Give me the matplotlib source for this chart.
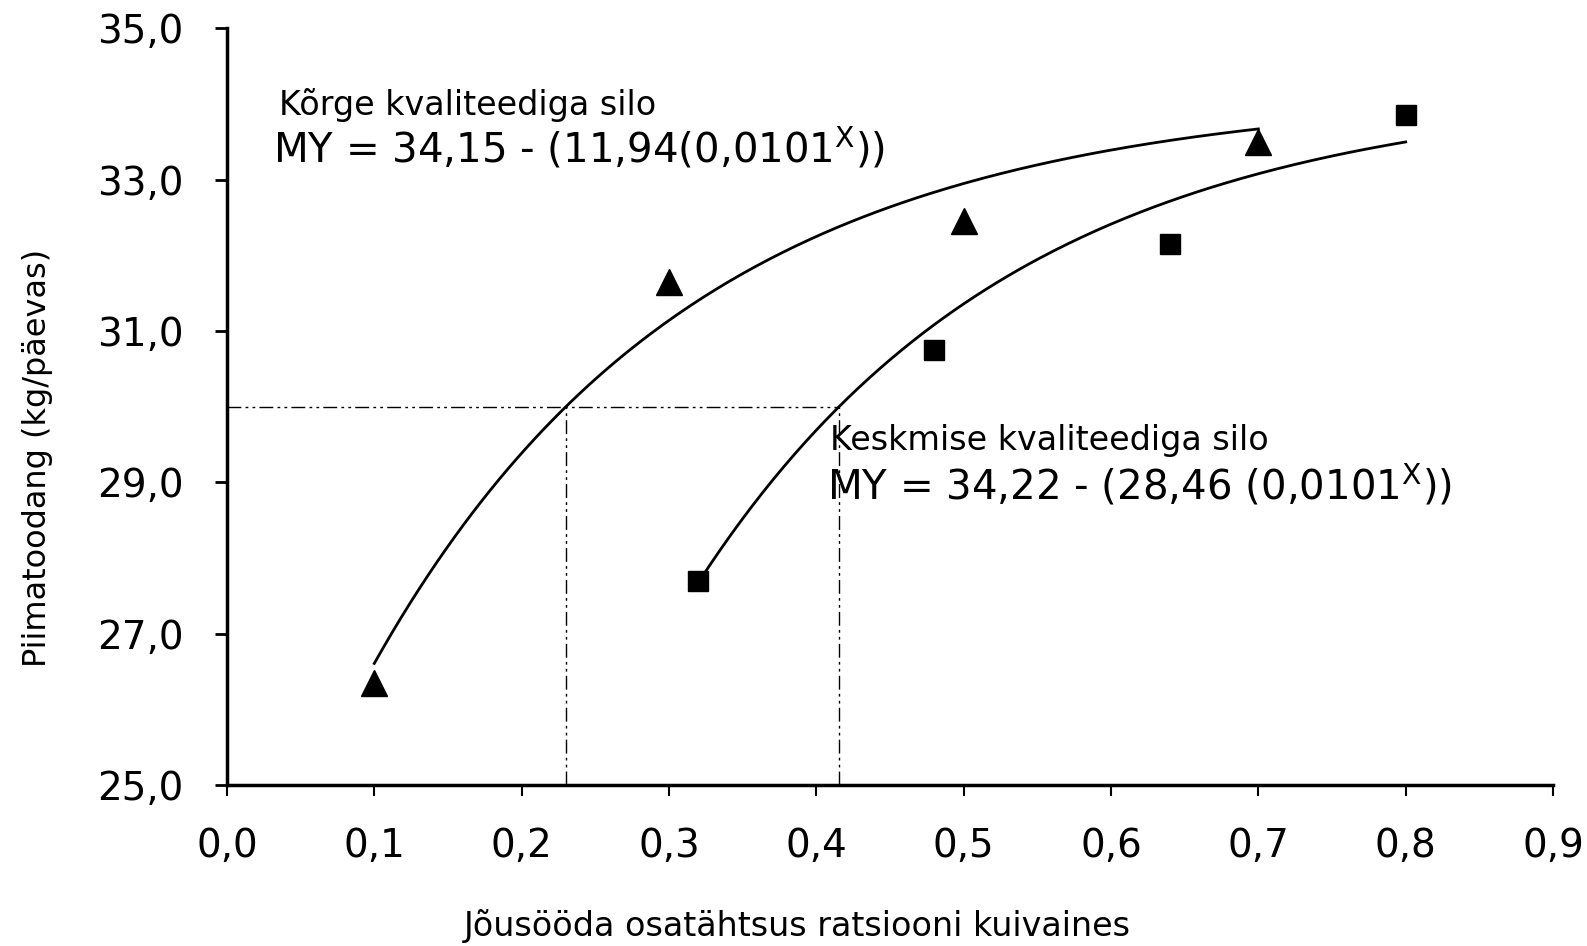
import numpy as np
import matplotlib
matplotlib.use('Agg')
import matplotlib.pyplot as plt

# mõõdetud punktid
x_korge = [0.10, 0.30, 0.50, 0.70]
y_korge = [26.35, 31.65, 32.45, 33.50]
x_kesk = [0.32, 0.48, 0.64, 0.80]
y_kesk = [27.70, 30.75, 32.15, 33.85]

# kõverate parameetrid (MY = a - b*c^x), võrrandid joonise pealt
a1, b1, c1 = 34.15, 11.94, 0.0101
a2, b2, c2 = 34.22, 28.46, 0.0101
piir = 30.0

xticks = [0.0, 0.1, 0.2, 0.3, 0.4, 0.5, 0.6, 0.7, 0.8, 0.9]
yticks = [25.0, 27.0, 29.0, 31.0, 33.0, 35.0]

plt.rcParams['font.family'] = ['DejaVu Sans']

fig = plt.figure(figsize=(15.87, 9.46), dpi=100)
ax = fig.add_axes([0.143, 0.170, 0.8356, 0.800])

# kõverad
xx1 = np.linspace(x_korge[0], x_korge[-1], 200)
xx2 = np.linspace(x_kesk[0], x_kesk[-1], 200)
ax.plot(xx1, a1 - b1 * c1 ** xx1, color='black', lw=2)
ax.plot(xx2, a2 - b2 * c2 ** xx2, color='black', lw=2)

ax.plot(x_korge, y_korge, '^', color='black', ms=19, clip_on=False)
ax.plot(x_kesk, y_kesk, 's', color='black', ms=15, clip_on=False)

# abijooned 30 kg juures
xp1 = np.log((a1 - piir) / b1) / np.log(c1)
xp2 = np.log((a2 - piir) / b2) / np.log(c2)
kriips = (10, 3, 2, 3, 2, 3)
ax.plot([0, xp2], [piir, piir], color='black', lw=1, dashes=kriips)
ax.plot([xp1, xp1], [25, piir], color='black', lw=1, dashes=kriips)
ax.plot([xp2, xp2], [25, piir], color='black', lw=1, dashes=kriips)

ax.text(0.035, 33.99, 'Kõrge kvaliteediga silo', fontsize=24, va='center')
ax.text(0.031, 33.41, r'MY = 34,15 - (11,94(0,0101$^{\mathregular{X}}$))',
        fontsize=29, va='center')
ax.text(0.409, 29.56, 'Keskmise kvaliteediga silo', fontsize=24, va='center')
ax.text(0.407, 28.96, r'MY = 34,22 - (28,46 (0,0101$^{\mathregular{X}}$))',
        fontsize=29, va='center')

ax.set_xlim(0, 0.9)
ax.set_ylim(25, 35)
ax.set_xticks(xticks)
ax.set_xticklabels([f'{v:.1f}'.replace('.', ',') for v in xticks])
ax.set_yticks(yticks)
ax.set_yticklabels([f'{v:.1f}'.replace('.', ',') for v in yticks])

for s in ['top', 'right']:
    ax.spines[s].set_visible(False)
for s in ['left', 'bottom']:
    ax.spines[s].set_linewidth(2.5)
ax.tick_params(axis='x', length=8, width=1.5, pad=22, labelsize=28)
ax.tick_params(axis='y', length=9, width=2, pad=22, labelsize=28)

ax.set_xlabel('Jõusööda osatähtsus ratsiooni kuivaines', fontsize=24)
ax.set_ylabel('Piimatoodang (kg/päevas)', fontsize=23)
ax.xaxis.set_label_coords(0.43, -0.186)
ax.yaxis.set_label_coords(-0.1425, 0.432)
ax.xaxis.label.set_va('center')
ax.yaxis.label.set_va('center')

fig.savefig('out.png', dpi=100, facecolor='white')
